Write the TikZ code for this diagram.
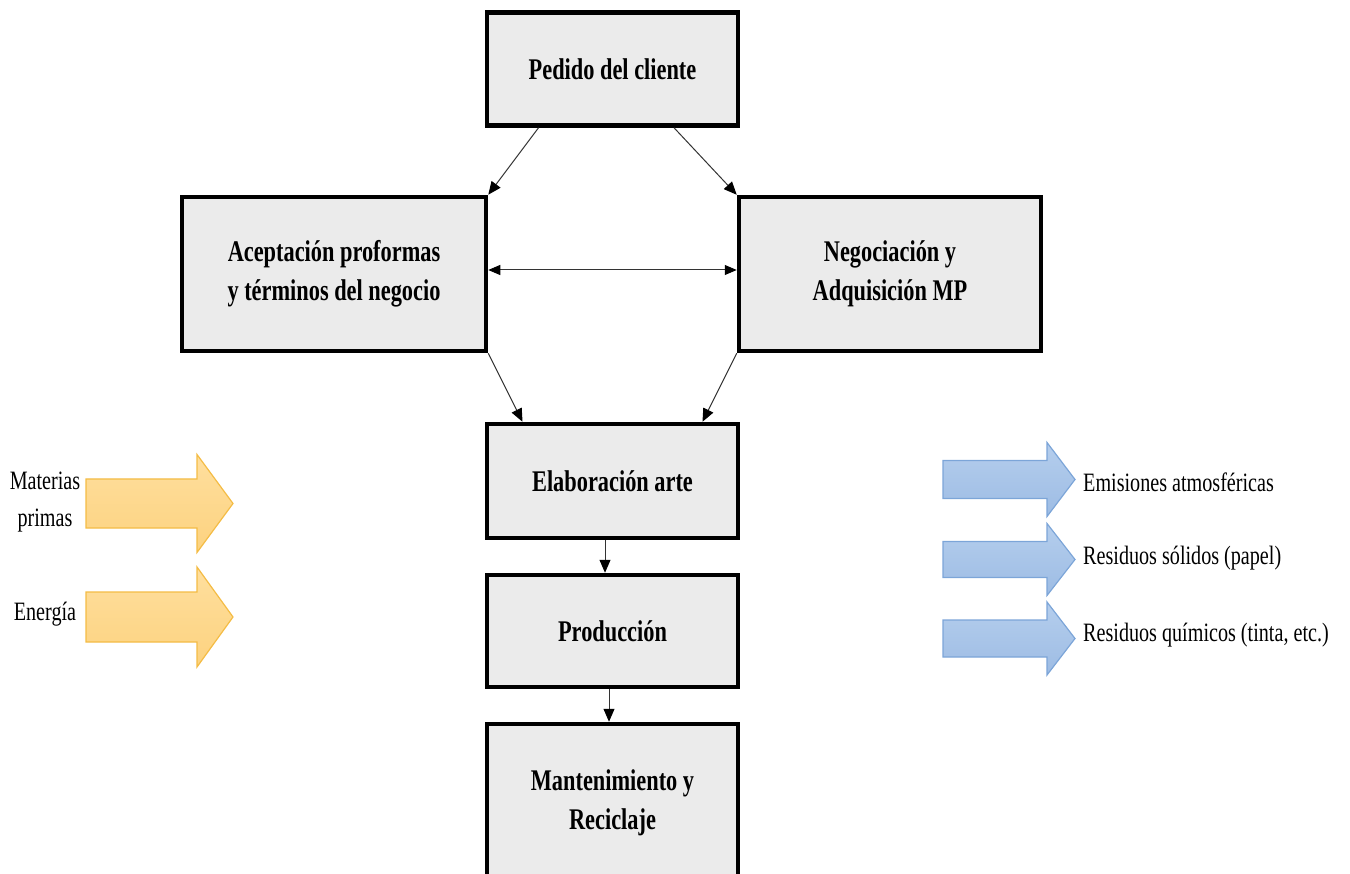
\documentclass[tikz,border=0pt]{standalone}
\usepackage{fontspec}
\setmainfont{Liberation Serif}
\newfontfamily\narrowserif[FakeStretch=0.76]{Liberation Serif}
\newfontfamily\narrowbold[FakeStretch=0.745]{Liberation Serif}
\usetikzlibrary{arrows.meta,calc}
\definecolor{boxfill}{HTML}{EBEBEB}
\definecolor{inTop}{HTML}{FFDF9E}
\definecolor{inBot}{HTML}{FCD27F}
\definecolor{inEdge}{HTML}{F4BC45}
\definecolor{outTop}{HTML}{B5CEED}
\definecolor{outBot}{HTML}{9DBCE4}
\definecolor{outEdge}{HTML}{7CA5D8}

% block arrow: style, tail x, head base x, tip x, centre y, half shaft, half head
\newcommand\flowarrow[7]{%
  \path[#1] (#2,#5-#6) -- (#3,#5-#6) -- (#3,#5-#7) -- (#4,#5)
    -- (#3,#5+#7) -- (#3,#5+#6) -- (#2,#5+#6) -- cycle;}

\begin{document}
\begin{tikzpicture}[x=1pt,y=-1pt,
  stage/.style={draw=black, line width=4.5pt, fill=boxfill, rectangle,
    inner sep=0pt, align=center,
    font=\narrowbold\bfseries\fontsize{30}{39}\selectfont},
  link/.style={draw=black!80, line width=1pt,
    -{Triangle[length=13pt,width=11pt,color=black]}},
  twoway/.style={draw=black!80, line width=1pt,
    {Triangle[length=12pt,width=10pt,color=black]}-{Triangle[length=12pt,width=10pt,color=black]}},
  inflow/.style={draw=inEdge, line width=1.2pt, top color=inTop, bottom color=inBot},
  outflow/.style={draw=outEdge, line width=1.2pt, top color=outTop, bottom color=outBot},
  side/.style={inner sep=0pt, align=center,
    font=\narrowserif\fontsize{26.5}{37}\selectfont}]

\useasboundingbox (0,0) rectangle (1350,874);
\clip (0,0) rectangle (1350,874);

% process stages
\node[stage, minimum width=251pt, minimum height=113pt] (ped) at (612.5,69) {Pedido del cliente};
\node[stage, minimum width=304pt, minimum height=154pt] (acep) at (334,274) {Aceptación proformas\\y términos del negocio};
\node[stage, minimum width=302pt, minimum height=154pt] (neg) at (890,274) {Negociación y\\Adquisición MP};
\node[stage, minimum width=251pt, minimum height=114pt] (elab) at (612.5,481) {Elaboración arte};
\node[stage, minimum width=251pt, minimum height=112pt] (prod) at (612.5,631) {Producción};
\node[stage, minimum width=251pt, minimum height=158pt] (mant) at (612.5,803) {Mantenimiento y\\Reciclaje};

% connectors between stages
\draw[link] ([xshift=-74pt]ped.south) -- (acep.north east);
\draw[link] ([xshift=61.5pt]ped.south) -- (neg.north west);
\draw[twoway] ([yshift=4pt]acep.east) -- ([yshift=4pt]neg.west);
\draw[link] (acep.south east) -- ([xshift=-90pt]elab.north);
\draw[link] (neg.south west) -- ([xshift=90pt]elab.north);
\draw[link] ([xshift=-7.5pt]elab.south) -- ([xshift=-7.5pt]prod.north);
\draw[link] ([xshift=-3.5pt]prod.south) -- ([xshift=-3.5pt]mant.north);

% inputs
\flowarrow{inflow}{86}{197}{233}{503.5}{24.5}{49}
\flowarrow{inflow}{86}{197}{233}{617}{25}{50}
\node[side] (mat) at (45,502) {Materias\\primas};
\node[side, anchor=base] (ene) at (45,620) {Energía};

% outputs
\flowarrow{outflow}{943}{1047}{1075}{479.5}{19}{37}
\flowarrow{outflow}{943}{1047}{1075}{559.5}{18}{36}
\flowarrow{outflow}{943}{1047}{1075}{638.5}{18.5}{36.5}
\node[side, anchor=base west] (emi) at (1083,491) {Emisiones atmosféricas};
\node[side, anchor=base west] (sol) at (1083,564) {Residuos sólidos (papel)};
\node[side, anchor=base west] (qui) at (1083,641) {Residuos químicos (tinta, etc.)};
\end{tikzpicture}
\end{document}
